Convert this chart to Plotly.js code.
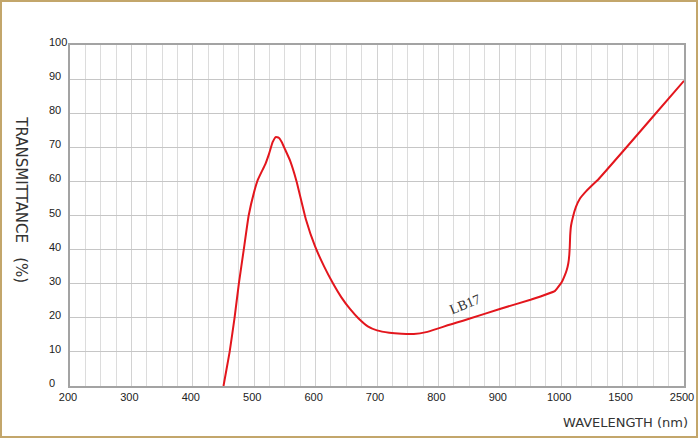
<!DOCTYPE html>
<html>
<head>
<meta charset="utf-8">
<script src="https://cdn.plot.ly/plotly-3.0.1.min.js"></script>
<style>
  html, body { margin: 0; padding: 0; background: #ffffff; }
  #wrap { position: relative; width: 700px; height: 440px; }
  #chart { position: absolute; left: 0; top: 0; width: 700px; height: 440px; }
  #frame { position: absolute; left: 0; top: 0; width: 698px; height: 438px;
           border: 2px solid #c3a66b; box-sizing: border-box; pointer-events: none; }
</style>
</head>
<body>
<div id="wrap"><div id="chart"></div><div id="frame"></div></div>
<script>
// Wavelength (nm) and transmittance (%) (LB17)
const wavelengths = [450, 455, 460, 468, 475, 483, 491, 500, 506, 512, 518, 524, 530, 535, 540, 545, 550, 558,
  569, 584, 599, 614, 628, 642, 656, 670, 685, 700, 720, 740, 760, 780, 800, 815, 830, 850, 900, 950, 990,
  1005, 1030, 1045, 1058, 1066, 1070, 1073, 1080, 1095, 1120, 1153, 1200, 1235, 1300, 1500, 2000, 2500];
const transmittance = [0, 5, 10, 20, 30, 40, 50, 57, 60.5, 62.8, 65, 68, 71.5, 73, 72.8, 71.5, 69.5, 66.3,
  60, 49, 41, 35, 30.2, 26, 22.6, 19.8, 17.5, 16.3, 15.6, 15.3, 15.25, 15.8, 16.9, 17.8, 18.6, 19.7, 22.6, 25.3, 27.9,
  30.5, 32.5, 34, 36, 38.5, 41, 44, 47, 49.5, 52.5, 55, 57, 58.3, 60.5, 68.7, 79.1, 89.5];

const xTickWavelengths = [200, 300, 400, 500, 600, 700, 800, 900, 1000, 1500, 2500];
const xTickLabels = ['200', '300', '400', '500', '600', '700', '800', '900', '1000', '1500', '2500'];
const yTicks = [0, 10, 20, 30, 40, 50, 60, 70, 80, 90, 100];
const yTickLabels = ['0', '10', '20', '30', '40', '50', '60', '70', '80', '90', '100'];

// Piecewise wavelength scale used by the chart: 200-1000 linear, then 1000-1500, 1500-2500 one division each
function wlToPos(w) {
  if (w <= 1000) return (w - 200) / 100;
  if (w <= 1500) return 8 + (w - 1000) / 500;
  return 9 + (w - 1500) / 1000;
}

const trace = {
  x: wavelengths.map(wlToPos),
  y: transmittance,
  mode: 'lines',
  line: { color: '#e3161d', width: 2, shape: 'spline', smoothing: 0.3 },
  hoverinfo: 'skip'
};

const tickFont = { family: 'Liberation Sans, Arial, sans-serif', size: 11, color: '#222' };

const annotations = yTicks.map((v, i) => ({
  xref: 'paper', yref: 'y', x: -0.038, y: v, yshift: 3,
  text: yTickLabels[i], showarrow: false, xanchor: 'left', yanchor: 'middle', font: tickFont
}));

annotations.push({
  xref: 'paper', yref: 'paper', x: -0.08, y: 0.545,
  text: 'TRANSMITTANCE&nbsp;&nbsp;&nbsp;(%)', textangle: 90, showarrow: false,
  xanchor: 'center', yanchor: 'middle',
  font: { family: 'DejaVu Sans, Verdana, sans-serif', size: 15, color: '#333' }
});
annotations.push({
  xref: 'paper', yref: 'paper', x: 0.9055, y: -0.1085,
  text: 'WAVELENGTH (nm)', showarrow: false, xanchor: 'center', yanchor: 'middle',
  font: { family: 'DejaVu Sans, Verdana, sans-serif', size: 13, color: '#333' }
});
annotations.push({
  xref: 'x', yref: 'y', x: wlToPos(843), y: 24,
  text: 'LB17', textangle: -22, showarrow: false, xanchor: 'center', yanchor: 'middle',
  font: { family: 'Liberation Serif, Times New Roman, serif', size: 14, color: '#333' }
});

const layout = {
  width: 700, height: 440,
  margin: { l: 70, r: 16, t: 45, b: 54 },
  paper_bgcolor: '#ffffff', plot_bgcolor: '#ffffff',
  showlegend: false,
  xaxis: {
    range: [0, 10], fixedrange: true,
    tickmode: 'array', tickvals: xTickWavelengths.map(wlToPos), ticktext: xTickLabels,
    ticks: '', tickfont: tickFont, ticklabelshift: -2,
    showgrid: true, gridcolor: '#d2d2d2', gridwidth: 1,
    minor: { tickmode: 'linear', tick0: 0, dtick: 0.25, showgrid: true, gridcolor: '#dcdcdc', gridwidth: 1, ticks: '' },
    showline: true, mirror: true, linecolor: '#a3a3a3', linewidth: 2,
    zeroline: false
  },
  yaxis: {
    range: [0, 100], fixedrange: true,
    tickmode: 'array', tickvals: yTicks, showticklabels: false, ticks: '',
    showgrid: true, gridcolor: '#c6c6c6', gridwidth: 1,
    showline: true, mirror: true, linecolor: '#a3a3a3', linewidth: 2,
    zeroline: false
  },
  annotations: annotations
};

Plotly.newPlot('chart', [trace], layout, { displayModeBar: false, staticPlot: true });
</script>
</body>
</html>
